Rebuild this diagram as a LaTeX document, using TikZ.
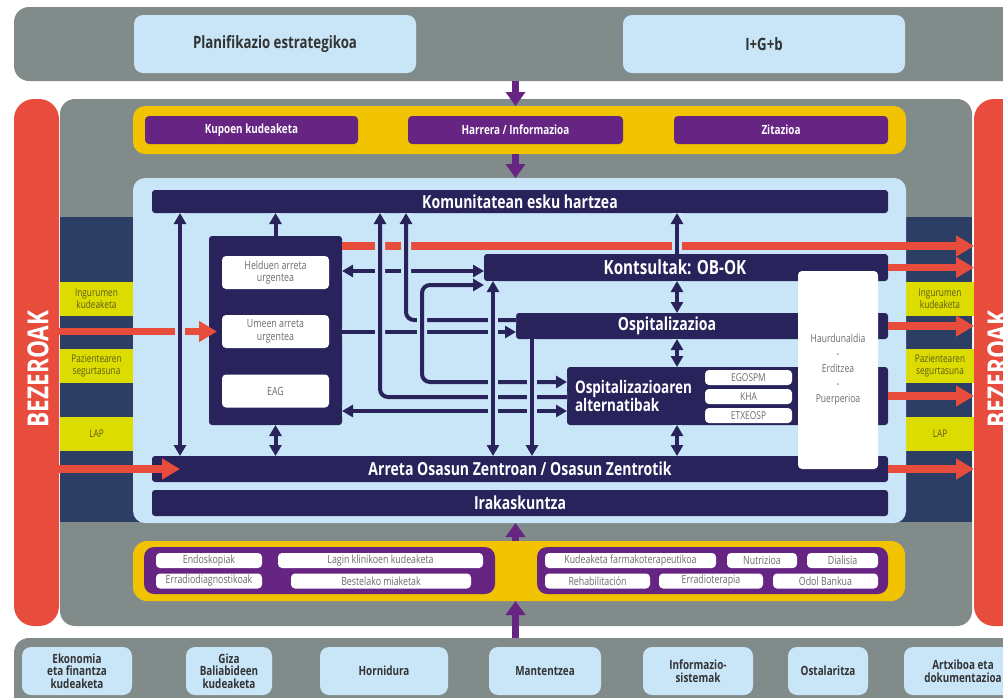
\documentclass[tikz,border=0pt]{standalone}
\usepackage{fontspec}
\setmainfont{Open Sans}[FakeStretch=0.78]
\usepackage{tikz}
\usetikzlibrary{arrows.meta,positioning}

\definecolor{grayc}{HTML}{818B8A}
\definecolor{lblue}{HTML}{C9E6F8}
\definecolor{navy}{HTML}{29235C}
\definecolor{band}{HTML}{2C3E64}
\definecolor{redc}{HTML}{E84C3D}
\definecolor{ylw}{HTML}{F2C300}
\definecolor{purp}{HTML}{662483}
\definecolor{lime}{HTML}{DCDC00}
\definecolor{olive}{HTML}{5B5B1A}
\definecolor{txt}{HTML}{333333}
\definecolor{pilltxt}{HTML}{6B6B6B}

\tikzset{
  every node/.style={inner sep=0pt, outer sep=0pt},
  lbox/.style={fill=lblue, rounded corners=9pt, font=\fontsize{17}{17}\selectfont\bfseries, text=txt, align=center},
  pbox/.style={fill=purp, rounded corners=4pt, minimum height=28pt, font=\fontsize{12.7}{14}\selectfont\bfseries, text=white},
  dbar/.style={fill=navy, rounded corners=3pt, font=\fontsize{18}{18}\selectfont\bfseries, text=white},
  wbox/.style={fill=white, rounded corners=4pt, minimum width=107pt, minimum height=33pt, font=\fontsize{11.3}{12.5}\selectfont, text=pilltxt, align=center},
  pill/.style={fill=white, rounded corners=4pt, minimum height=15pt, font=\fontsize{11.3}{12}\selectfont, text=pilltxt},
  ylab/.style={fill=lime, minimum height=34pt, font=\fontsize{10.6}{11.5}\selectfont, text=olive, align=center},
  bbox/.style={fill=lblue, rounded corners=9pt, minimum height=48pt, font=\fontsize{12.7}{12.5}\selectfont\bfseries, text=txt, align=center},
  bez/.style={rotate=90, font=\fontsize{29}{29}\selectfont\bfseries, text=white},
  narr/.style={draw=navy, line width=4pt, preaction={draw=lblue, line width=10pt, arrows=-}},
  rarr/.style={draw=redc, line width=7.5pt, -{Triangle[length=18pt,width=20pt]}},
  parr/.style={draw=purp, line width=7pt, -{Triangle[length=14pt,width=19pt]}}
}

\begin{document}
\begin{tikzpicture}[x=1pt,y=-1pt,>={Triangle[length=11pt,width=12pt]}]
\path[use as bounding box] (0,0) rectangle (1003,697);
\clip (0,0) rectangle (1003,697);

% top band
\node[fill=grayc, rounded corners=15pt, minimum width=1026pt, minimum height=74pt] (top) at (527,44) {};
\node[lbox, minimum width=282pt, minimum height=58pt] (plan) at (275,44) {Planifikazio estrategikoa};
\node[lbox, minimum width=282pt, minimum height=58pt] (igb) at (764,44) {I+G+b};

% main frame
\node[fill=redc, rounded corners=20pt, minimum width=45pt, minimum height=527pt] (lred) at (36.5,362.5) {};
\node[fill=redc, rounded corners=20pt, minimum width=66pt, minimum height=527pt] (rred) at (1007,362.5) {};
\node[fill=grayc, rounded corners=15pt, minimum width=912pt, minimum height=527pt] (main) at (516,362.5) {};
\fill[band] (60,217) rectangle (972,522);
\node[bez] (bezL) at (38,369) {BEZEROAK};
\node[bez] (bezR) at (998,369) {BEZEROAK};

\node[ylab, minimum width=73pt] (ingL) at (96.5,299) {Ingurumen\\kudeaketa};
\node[ylab, minimum width=73pt] (pazL) at (96.5,366) {Pazientearen\\segurtasuna};
\node[ylab, minimum width=73pt] (lapL) at (96.5,434) {LAP};
\node[ylab, minimum width=68pt] (ingR) at (940,299) {Ingurumen\\kudeaketa};
\node[ylab, minimum width=68pt] (pazR) at (940,366) {Pazientearen\\segurtasuna};
\node[ylab, minimum width=68pt] (lapR) at (940,434) {LAP};

% yellow top
\node[fill=ylw, rounded corners=12pt, minimum width=773pt, minimum height=48pt] (ytop) at (519.5,130) {};
\node[pbox, minimum width=213pt] (kupo) at (251.5,130) {Kupoen kudeaketa};
\node[pbox, minimum width=215pt] (harr) at (515.5,130) {Harrera / Informazioa};
\node[pbox, minimum width=214pt] (zita) at (781,130) {Zitazioa};

% light panel
\node[fill=lblue, rounded corners=12pt, minimum width=773pt, minimum height=345pt] (panel) at (519.5,350.5) {};
\node[dbar, minimum width=736pt, minimum height=23pt] (komu) at (520,201.5) {Komunitatean esku hartzea};
\node[dbar, minimum width=404pt, minimum height=27pt] (kont) at (686,267.5) {};
\node[dbar, minimum width=372pt, minimum height=26pt] (ospi) at (702,326) {};
\node[dbar, minimum width=321pt, minimum height=58pt] (alte) at (727.5,396) {};
\node[dbar, minimum width=736pt, minimum height=26pt] (arre) at (520,469) {Arreta Osasun Zentroan / Osasun Zentrotik};
\node[dbar, minimum width=736pt, minimum height=26pt] (irak) at (520,503) {Irakaskuntza};
\node[dbar, font=\fontsize{19.5}{19}\selectfont\bfseries] (kontT) at (675,267.5) {Kontsultak: OB-OK};
\node[dbar] (ospiT) at (667,326) {Ospitalizazioa};
\node[dbar, anchor=west, align=left, font=\fontsize{17.3}{15}\selectfont\bfseries] (alteT) at (575,396) {Ospitalizazioaren\\alternatibak};
\node[pill, minimum width=87pt, font=\fontsize{10.8}{12}\selectfont] (egos) at (748.5,377.5) {EGOSPM};
\node[pill, minimum width=87pt, font=\fontsize{10.8}{12}\selectfont] (kha) at (748.5,396.5) {KHA};
\node[pill, minimum width=87pt, font=\fontsize{10.8}{12}\selectfont] (etxe) at (748.5,415.5) {ETXEOSP};

\node[dbar, minimum width=133pt, minimum height=189pt] (urg) at (275.5,330.5) {};
\node[wbox] (held) at (275.5,272.5) {Helduen arreta\\urgentea};
\node[wbox] (umee) at (275.5,331.5) {Umeen arreta\\urgentea};
\node[wbox] (eag) at (275.5,391) {EAG};

% columns and rows
\coordinate (xA) at (180,0);
\coordinate (xC) at (380,0);
\coordinate (xD) at (406,0);
\coordinate (xE) at (422,0);
\coordinate (xF) at (493,0);
\coordinate (xG) at (532,0);
\coordinate (xH) at (677,0);
\coordinate (yR) at (0,246);
\coordinate (yK1) at (0,271);
\coordinate (yK2) at (0,285);
\coordinate (yO1) at (0,320);
\coordinate (yO2) at (0,332);
\coordinate (yA1) at (0,382);
\coordinate (yA2) at (0,397);
\coordinate (yA3) at (0,411);

% red flows
\draw[rarr] (urg.east |- yR) -- (rred.west |- yR);
\draw[rarr] (kont.east) -- (kont.east -| rred.west);
\draw[rarr] (ospi.east) -- (ospi.east -| rred.west);
\draw[rarr] (alte.east) -- (alte.east -| rred.west);
\draw[rarr] (arre.east) -- (arre.east -| rred.west);
\draw[rarr, shorten >=5pt] (lred.east |- umee) -- (umee.west);
\draw[rarr] (lred.east |- arre) -- (xA |- arre);

% navy flows
\draw[narr, <->] (urg.east |- yK1) -- (kont.west |- yK1);
\draw[narr, ->] (urg.east |- yO2) -- (ospi.west |- yO2);
\draw[narr, <->] (urg.east |- yA3) -- (alte.west |- yA3);
\draw[narr, ->, rounded corners=8pt] (ospi.west |- yO1) -- (xD |- yO1) -- (xD |- komu.south);
\draw[narr, ->, rounded corners=8pt] (alte.west |- yA2) -- (xC |- yA2) -- (xC |- komu.south);
\draw[narr, <->, rounded corners=8pt] (kont.west |- yK2) -- (xE |- yK2) -- (xE |- yA1) -- (alte.west |- yA1);
\draw[narr, <->] (xA |- komu.south) -- (xA |- arre.north);
\draw[narr, ->] (urg.north) -- (urg.north |- komu.south);
\draw[narr, <->] (urg.south) -- (urg.south |- arre.north);
\draw[narr, <->] (xF |- kont.south) -- (xF |- arre.north);
\draw[narr, ->] (xG |- ospi.south) -- (xG |- arre.north);
\draw[narr, ->] (xH |- kont.north) -- (xH |- komu.south);
\draw[narr, <->] (xH |- kont.south) -- (xH |- ospi.north);
\draw[narr, <->] (xH |- ospi.south) -- (xH |- alte.north);
\draw[narr, <->] (xH |- alte.south) -- (xH |- arre.north);

\node[wbox, minimum width=80pt, minimum height=198pt, font=\fontsize{11}{15}\selectfont] (haur) at (838,370) {Haurdunaldia\\-\\Erditzea\\-\\Puerperioa};

% yellow bottom
\node[fill=ylw, rounded corners=14pt, minimum width=772pt, minimum height=60pt] (ybot) at (519,571) {};
\node[fill=purp, rounded corners=10pt, minimum width=351pt, minimum height=47pt] (grpL) at (319.5,570.5) {};
\node[fill=purp, rounded corners=10pt, minimum width=351pt, minimum height=47pt] (grpR) at (712.5,570.5) {};
\node[pill, minimum width=106pt] (endo) at (209,560.5) {Endoskopiak};
\node[pill, minimum width=205pt] (lagi) at (380.5,560.5) {Lagin klinikoen kudeaketa};
\node[pill, minimum width=106pt] (erra) at (209,581) {Erradiodiagnostikoak};
\node[pill, minimum width=180pt] (best) at (381,581) {Bestelako miaketak};
\node[pill, minimum width=171pt] (kude) at (630.5,560.5) {Kudeaketa farmakoterapeutikoa};
\node[pill, minimum width=70pt] (nutr) at (762,560.5) {Nutrizioa};
\node[pill, minimum width=71pt] (dial) at (842.5,560.5) {Dialisia};
\node[pill, minimum width=105pt] (reha) at (597.5,581) {Rehabilitación};
\node[pill, minimum width=104pt] (errt) at (711,581) {Erradioterapia};
\node[pill, minimum width=105pt] (odol) at (825.5,581) {Odol Bankua};

% bottom band
\node[fill=grayc, rounded corners=15pt, minimum width=1026pt, minimum height=82pt] (bot) at (527,679) {};
\node[bbox, minimum width=110pt] (ekon) at (77,671) {Ekonomia\\eta finantza\\kudeaketa};
\node[bbox, minimum width=86pt] (giza) at (229,671) {Giza\\Baliabideen\\kudeaketa};
\node[bbox, minimum width=128pt] (horn) at (384,671) {Hornidura};
\node[bbox, minimum width=112pt] (mant) at (545,671) {Mantentzea};
\node[bbox, minimum width=110pt] (info) at (698,671) {Informazio-\\sistemak};
\node[bbox, minimum width=80pt] (osta) at (828,671) {Ostalaritza};
\node[bbox, minimum width=118pt] (artx) at (963,671) {Artxiboa eta\\dokumentazioa};

% purple flows
\draw[parr] (top.south -| harr) -- (ytop.north -| harr);
\draw[parr] (ytop.south -| harr) -- (panel.north -| harr);
\draw[parr] (bot.north -| harr) -- (ybot.south -| harr);
\draw[parr] (ybot.north -| harr) -- (panel.south -| harr);
\end{tikzpicture}
\end{document}
